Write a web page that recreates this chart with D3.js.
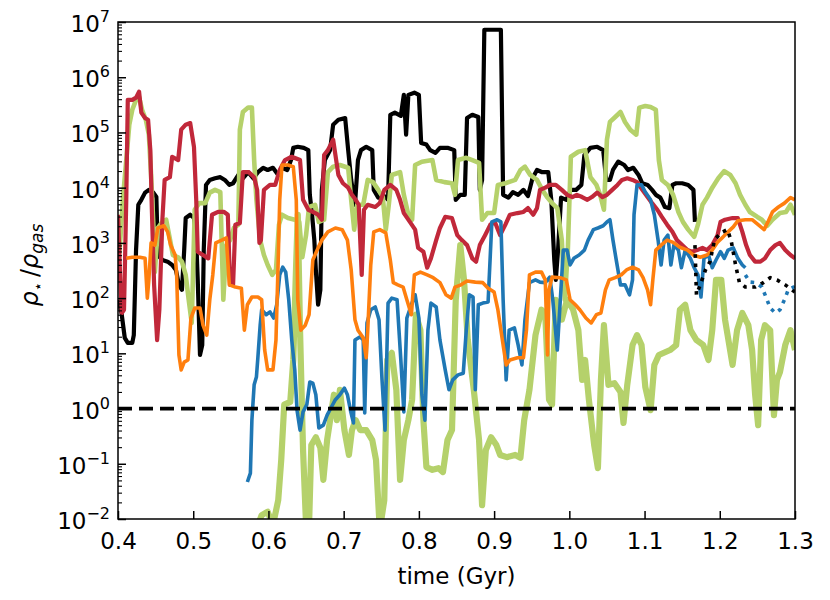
<!DOCTYPE html>
<html><head><meta charset="utf-8">
<script src="https://cdn.jsdelivr.net/npm/d3@7"></script>
<style>body{margin:0;background:#fff} text{font-family:"DejaVu Sans",sans-serif}</style>
</head><body><svg id="c" width="830" height="600"></svg>
<script>
// values: [time (Gyr), log10(rho_star / rho_gas)]
const xTickLabels = ["0.4","0.5","0.6","0.7","0.8","0.9","1.0","1.1","1.2","1.3"];
const yTickExponents = [-2,-1,0,1,2,3,4,5,6,7];
const threshold = 1;

const black = [[0.401,1.97],[0.405,1.70],[0.409,1.28],[0.413,1.19],[0.419,1.19],[0.421,1.33],[0.424,2.87],[0.427,3.69],[0.431,3.78],[0.436,3.91],[0.441,3.96],[0.447,3.91],[0.451,3.83],[0.453,2.78],[0.459,2.69],[0.466,2.66],[0.472,2.60],[0.477,2.51],[0.481,2.24],[0.485,2.15],[0.488,2.87],[0.490,3.45],[0.496,3.51],[0.501,3.45],[0.504,3.05],[0.506,2.33],[0.509,0.97],[0.512,1.15],[0.514,2.87],[0.517,4.05],[0.522,4.14],[0.529,4.17],[0.536,4.19],[0.542,4.14],[0.548,4.05],[0.553,4.08],[0.560,4.23],[0.566,4.17],[0.573,4.28],[0.580,4.17],[0.586,4.28],[0.593,4.36],[0.599,4.32],[0.606,4.36],[0.613,4.23],[0.618,4.36],[0.625,4.32],[0.630,4.50],[0.633,4.72],[0.639,4.74],[0.647,4.72],[0.653,4.68],[0.655,3.87],[0.658,3.51],[0.661,3.05],[0.663,2.51],[0.666,1.88],[0.669,2.15],[0.671,3.96],[0.675,4.50],[0.682,4.68],[0.686,5.14],[0.693,5.23],[0.702,5.26],[0.706,4.68],[0.710,4.14],[0.715,3.69],[0.719,4.50],[0.723,4.68],[0.730,4.74],[0.738,4.68],[0.740,3.96],[0.746,3.82],[0.752,3.87],[0.759,3.78],[0.762,5.32],[0.768,5.36],[0.776,5.30],[0.780,5.68],[0.783,4.96],[0.786,5.68],[0.794,5.72],[0.800,5.68],[0.803,4.81],[0.810,4.78],[0.815,4.68],[0.822,4.63],[0.828,4.72],[0.839,4.72],[0.847,4.68],[0.849,3.78],[0.855,3.87],[0.861,3.87],[0.864,5.26],[0.871,5.32],[0.879,5.28],[0.881,3.96],[0.884,4.14],[0.887,6.86],[0.899,6.86],[0.909,6.86],[0.912,3.87],[0.919,3.82],[0.925,3.92],[0.932,3.87],[0.939,3.96],[0.945,3.85],[0.951,4.17],[0.957,4.32],[0.964,4.28],[0.972,4.28],[0.976,3.78],[0.980,2.69],[0.982,2.33],[0.985,2.87],[0.989,3.82],[0.996,3.78],[1.002,3.96],[1.009,3.96],[1.016,4.05],[1.020,4.59],[1.028,4.72],[1.037,4.74],[1.045,4.68],[1.049,4.14],[1.054,4.14],[1.058,4.32],[1.065,4.47],[1.073,4.41],[1.078,4.32],[1.085,4.36],[1.092,4.23],[1.097,4.08],[1.104,4.05],[1.110,3.96],[1.115,3.87],[1.121,3.82],[1.127,3.65],[1.133,3.63],[1.137,4.05],[1.142,4.08],[1.150,4.08],[1.158,4.05],[1.165,3.96],[1.167,3.38]];

const blackDotted = [[1.167,2.96],[1.169,2.06],[1.174,2.24],[1.181,2.51],[1.187,2.66],[1.193,3.05],[1.201,3.18],[1.210,3.24],[1.215,3.05],[1.221,2.60],[1.226,2.29],[1.234,2.20],[1.247,2.20],[1.258,2.28],[1.267,2.37],[1.276,2.33],[1.287,2.24],[1.300,2.11]];

const red = [[0.400,3.51],[0.403,2.33],[0.405,1.73],[0.408,1.79],[0.411,3.78],[0.413,5.59],[0.419,5.59],[0.424,5.63],[0.428,5.74],[0.431,5.36],[0.436,5.26],[0.440,5.23],[0.443,4.68],[0.445,3.60],[0.448,2.24],[0.452,1.24],[0.455,1.79],[0.459,3.42],[0.462,4.14],[0.469,4.19],[0.472,4.56],[0.480,4.50],[0.484,5.05],[0.490,5.14],[0.496,5.17],[0.501,4.74],[0.504,3.78],[0.506,2.84],[0.513,2.78],[0.520,2.72],[0.525,3.51],[0.533,3.56],[0.541,3.56],[0.546,3.51],[0.549,2.24],[0.553,2.24],[0.556,3.33],[0.562,3.36],[0.566,4.28],[0.574,4.28],[0.581,4.19],[0.585,3.96],[0.588,3.00],[0.590,3.05],[0.594,3.96],[0.602,4.05],[0.609,4.05],[0.615,4.32],[0.622,4.50],[0.631,4.56],[0.642,4.50],[0.646,3.78],[0.653,3.60],[0.659,3.56],[0.666,3.51],[0.671,3.42],[0.674,4.59],[0.679,4.68],[0.686,4.87],[0.693,4.23],[0.699,4.08],[0.706,4.00],[0.711,3.87],[0.716,3.78],[0.720,3.69],[0.724,2.42],[0.727,3.60],[0.732,3.69],[0.742,3.65],[0.748,3.72],[0.754,3.96],[0.762,4.05],[0.770,3.96],[0.775,3.78],[0.780,3.54],[0.788,3.38],[0.795,3.24],[0.799,2.91],[0.806,2.84],[0.811,2.55],[0.816,2.72],[0.823,3.05],[0.828,3.27],[0.835,3.47],[0.844,3.45],[0.851,3.14],[0.857,3.05],[0.864,2.96],[0.871,2.72],[0.876,2.66],[0.881,2.96],[0.888,3.14],[0.895,3.33],[0.901,3.38],[0.908,3.14],[0.915,3.33],[0.921,3.51],[0.931,3.54],[0.939,3.56],[0.945,3.63],[0.952,3.51],[0.957,3.63],[0.961,3.96],[0.968,4.00],[0.974,4.05],[0.982,4.05],[0.990,3.96],[0.997,3.87],[1.004,3.83],[1.010,3.87],[1.017,3.83],[1.024,3.78],[1.030,3.83],[1.037,3.91],[1.044,3.83],[1.050,3.87],[1.057,3.96],[1.064,4.05],[1.070,4.14],[1.077,4.17],[1.084,4.14],[1.090,4.10],[1.097,3.96],[1.104,3.83],[1.110,3.72],[1.117,3.60],[1.123,3.47],[1.130,3.33],[1.137,3.20],[1.143,3.05],[1.150,2.96],[1.157,2.87],[1.163,2.84],[1.170,2.87],[1.177,2.91],[1.183,2.87],[1.190,2.96],[1.197,3.14],[1.201,3.38],[1.207,3.42],[1.217,3.45],[1.224,3.45],[1.230,3.20],[1.235,2.96],[1.240,2.78],[1.247,2.66],[1.254,2.66],[1.260,2.72],[1.267,2.87],[1.274,2.96],[1.280,3.00],[1.287,2.87],[1.294,2.78],[1.300,2.72]];

const orange = [[0.411,2.72],[0.419,2.74],[0.429,2.74],[0.436,2.72],[0.439,2.00],[0.441,2.33],[0.444,3.00],[0.449,2.96],[0.453,3.27],[0.461,3.31],[0.466,3.20],[0.470,2.96],[0.476,2.78],[0.478,2.42],[0.481,0.97],[0.484,0.70],[0.488,0.84],[0.493,0.88],[0.497,1.64],[0.502,1.82],[0.509,1.82],[0.513,1.51],[0.518,1.33],[0.522,1.97],[0.526,2.42],[0.530,3.00],[0.538,3.05],[0.544,3.09],[0.548,2.24],[0.556,2.20],[0.564,2.18],[0.568,1.42],[0.572,1.88],[0.578,2.02],[0.586,2.02],[0.591,1.97],[0.595,1.06],[0.599,0.70],[0.606,0.70],[0.610,1.24],[0.613,2.69],[0.615,3.78],[0.618,4.41],[0.626,4.41],[0.633,4.38],[0.637,3.78],[0.639,1.97],[0.643,1.42],[0.649,1.51],[0.654,1.70],[0.659,2.69],[0.666,2.91],[0.671,3.05],[0.679,3.20],[0.689,3.27],[0.698,3.24],[0.705,3.05],[0.710,2.51],[0.715,1.61],[0.719,1.42],[0.726,1.28],[0.730,0.92],[0.732,1.42],[0.736,2.60],[0.740,3.20],[0.748,3.24],[0.756,3.18],[0.762,2.69],[0.766,2.28],[0.772,2.24],[0.779,2.20],[0.784,1.97],[0.790,1.70],[0.794,2.42],[0.802,2.47],[0.811,2.42],[0.819,2.37],[0.828,2.28],[0.836,2.06],[0.843,2.00],[0.848,2.20],[0.856,2.24],[0.864,2.31],[0.875,2.29],[0.885,2.28],[0.892,2.18],[0.900,2.11],[0.905,1.79],[0.911,1.24],[0.916,0.79],[0.921,0.88],[0.931,0.92],[0.939,0.92],[0.943,1.42],[0.947,2.42],[0.955,2.47],[0.963,2.47],[0.968,2.33],[0.971,0.97],[0.973,2.15],[0.977,2.38],[0.988,2.37],[0.996,2.33],[1.001,1.97],[1.008,1.88],[1.014,1.79],[1.022,1.64],[1.029,1.55],[1.036,1.70],[1.042,1.73],[1.048,2.15],[1.053,2.33],[1.061,2.37],[1.069,2.42],[1.076,2.51],[1.084,2.56],[1.092,2.51],[1.098,2.37],[1.104,2.15],[1.108,1.88],[1.111,2.33],[1.115,2.87],[1.122,2.96],[1.130,3.05],[1.138,3.01],[1.147,2.92],[1.157,2.87],[1.165,2.78],[1.174,2.74],[1.183,2.78],[1.190,2.87],[1.197,3.01],[1.203,3.09],[1.211,3.20],[1.218,3.29],[1.224,3.40],[1.234,3.42],[1.243,3.42],[1.251,3.33],[1.259,3.24],[1.264,3.38],[1.270,3.56],[1.278,3.65],[1.286,3.72],[1.294,3.82],[1.300,3.78]];

const blue = [[0.572,-1.33],[0.576,-1.17],[0.578,-0.21],[0.581,0.43],[0.584,0.57],[0.586,0.93],[0.589,1.51],[0.591,1.79],[0.597,1.70],[0.602,1.75],[0.607,1.64],[0.611,1.88],[0.615,2.42],[0.619,2.56],[0.623,2.47],[0.627,1.97],[0.631,1.24],[0.635,0.70],[0.638,-0.03],[0.642,-0.39],[0.646,-0.06],[0.651,0.07],[0.655,0.48],[0.659,0.46],[0.663,0.25],[0.667,-0.35],[0.673,-0.30],[0.678,-0.12],[0.683,0.01],[0.689,0.16],[0.695,0.25],[0.701,0.37],[0.705,0.25],[0.709,-0.03],[0.713,-0.26],[0.715,1.24],[0.722,1.30],[0.726,1.24],[0.728,-0.08],[0.731,1.55],[0.736,1.79],[0.742,1.84],[0.747,1.61],[0.751,0.52],[0.755,-0.39],[0.759,1.91],[0.764,2.00],[0.771,1.97],[0.776,0.88],[0.780,-0.06],[0.784,1.64],[0.790,1.88],[0.795,2.06],[0.800,1.64],[0.804,0.25],[0.808,-0.21],[0.812,1.42],[0.816,1.91],[0.823,1.84],[0.828,1.24],[0.835,0.70],[0.840,0.34],[0.845,0.52],[0.852,0.61],[0.859,0.64],[0.863,1.42],[0.867,2.06],[0.872,2.02],[0.875,0.34],[0.879,1.88],[0.885,1.91],[0.892,1.93],[0.897,3.38],[0.904,3.42],[0.909,3.38],[0.912,1.97],[0.916,0.52],[0.920,1.42],[0.927,1.46],[0.932,1.15],[0.937,0.79],[0.941,1.61],[0.947,2.28],[0.955,2.33],[0.961,2.29],[0.968,2.28],[0.974,2.38],[0.978,1.97],[0.984,1.06],[0.988,1.97],[0.992,2.87],[0.997,2.87],[1.001,2.60],[1.006,2.72],[1.013,2.78],[1.020,2.87],[1.025,3.05],[1.032,3.24],[1.038,3.27],[1.045,3.31],[1.050,3.38],[1.054,3.42],[1.058,3.05],[1.062,2.72],[1.068,2.24],[1.074,2.24],[1.080,2.06],[1.084,2.33],[1.086,3.51],[1.090,4.05],[1.096,4.05],[1.101,3.92],[1.108,3.78],[1.113,3.51],[1.118,3.05],[1.122,2.60],[1.126,3.05],[1.131,3.14],[1.135,2.60],[1.139,2.96],[1.145,2.87],[1.149,2.55],[1.154,2.87],[1.161,2.72],[1.166,2.55],[1.171,2.42],[1.175,2.02],[1.179,2.72],[1.185,2.78],[1.190,2.55],[1.195,2.69],[1.201,2.84],[1.206,2.72],[1.211,2.87],[1.218,2.91],[1.224,2.72],[1.230,2.60],[1.234,2.55]];

const blueDotted = [[1.234,2.42],[1.240,2.29],[1.248,2.28],[1.256,2.20],[1.262,2.00],[1.267,1.82],[1.274,1.73],[1.280,1.79],[1.286,1.97],[1.291,2.15],[1.298,2.20],[1.300,2.15]];

const greenUpper = [[0.400,2.51],[0.403,3.05],[0.407,3.87],[0.411,4.50],[0.415,5.14],[0.419,5.41],[0.424,5.59],[0.428,5.64],[0.432,5.41],[0.437,5.23],[0.441,4.96],[0.444,4.23],[0.447,3.33],[0.449,2.47],[0.453,3.27],[0.459,3.38],[0.464,3.42],[0.468,3.14],[0.473,2.78],[0.480,2.74],[0.485,2.66],[0.490,2.42],[0.494,1.97],[0.498,1.55],[0.502,3.60],[0.508,3.72],[0.516,3.72],[0.522,3.91],[0.529,3.96],[0.536,3.92],[0.540,1.97],[0.544,2.96],[0.549,3.05],[0.554,3.27],[0.560,3.33],[0.562,5.05],[0.566,5.37],[0.573,5.45],[0.578,5.45],[0.581,4.50],[0.584,3.78],[0.589,3.05],[0.594,2.78],[0.599,2.60],[0.605,2.42],[0.610,2.51],[0.614,3.33],[0.618,3.51],[0.626,3.45],[0.635,3.42],[0.641,3.38],[0.645,2.74],[0.650,3.14],[0.654,3.65],[0.662,3.69],[0.667,3.38],[0.674,3.42],[0.679,4.28],[0.686,4.38],[0.695,4.41],[0.706,4.36],[0.710,3.78],[0.714,3.24],[0.718,3.69],[0.726,3.69],[0.732,4.14],[0.739,4.10],[0.746,3.96],[0.752,3.83],[0.756,3.24],[0.760,3.69],[0.764,4.23],[0.775,4.28],[0.780,3.87],[0.786,3.51],[0.791,3.42],[0.795,4.41],[0.804,4.47],[0.818,4.50],[0.823,4.14],[0.834,4.10],[0.844,4.08],[0.848,3.87],[0.852,4.50],[0.863,4.54],[0.871,4.50],[0.880,4.45],[0.884,3.42],[0.891,3.54],[0.900,3.54],[0.905,4.05],[0.915,4.08],[0.928,4.14],[0.935,4.32],[0.941,4.38],[0.948,4.23],[0.957,4.14],[0.964,3.96],[0.971,3.82],[0.977,3.72],[0.984,3.63],[0.990,3.05],[0.994,1.97],[0.998,2.87],[1.002,4.56],[1.012,4.65],[1.021,4.68],[1.028,4.19],[1.036,4.05],[1.041,3.87],[1.046,3.60],[1.050,4.87],[1.054,5.19],[1.061,5.28],[1.068,5.37],[1.074,5.19],[1.081,5.05],[1.089,4.96],[1.093,5.45],[1.101,5.48],[1.108,5.46],[1.115,5.41],[1.119,4.50],[1.123,4.14],[1.131,4.05],[1.138,3.87],[1.145,3.56],[1.151,3.38],[1.158,3.24],[1.166,3.11],[1.171,3.33],[1.177,3.69],[1.183,3.82],[1.190,4.00],[1.198,4.17],[1.206,4.30],[1.214,4.23],[1.221,4.08],[1.227,3.87],[1.234,3.69],[1.240,3.56],[1.250,3.47],[1.256,3.42],[1.263,3.31],[1.270,3.42],[1.280,3.54],[1.288,3.56],[1.294,3.69],[1.300,3.51]];

const greenLower = [[0.586,-2.11],[0.591,-1.93],[0.599,-1.87],[0.606,-2.11],[0.613,-1.66],[0.617,-0.93],[0.621,0.07],[0.629,0.12],[0.633,0.88],[0.637,2.69],[0.639,3.51],[0.642,1.42],[0.646,-0.75],[0.650,-2.11],[0.654,-2.11],[0.657,-0.66],[0.663,-0.52],[0.669,-0.71],[0.673,-1.29],[0.678,-0.57],[0.682,-0.21],[0.687,0.25],[0.691,-0.21],[0.695,0.34],[0.701,-0.39],[0.707,-0.84],[0.711,-0.39],[0.716,-0.21],[0.722,-0.39],[0.730,-0.39],[0.738,-0.57],[0.743,-0.93],[0.748,-2.20],[0.754,-1.66],[0.758,0.88],[0.764,1.01],[0.770,0.34],[0.775,-1.29],[0.780,-0.57],[0.786,-0.21],[0.791,0.16],[0.796,1.70],[0.802,1.42],[0.806,-0.21],[0.810,-1.06],[0.818,-1.11],[0.826,-1.08],[0.832,-1.15],[0.838,-0.57],[0.844,-0.39],[0.849,1.97],[0.855,2.96],[0.860,2.33],[0.865,1.24],[0.873,0.34],[0.880,-0.57],[0.884,-1.75],[0.889,-0.75],[0.896,-0.52],[0.903,-0.66],[0.908,-0.84],[0.917,-0.88],[0.928,-0.84],[0.935,-0.89],[0.940,-0.21],[0.947,0.34],[0.955,1.33],[0.963,1.79],[0.968,1.70],[0.973,0.16],[0.977,0.07],[0.982,1.97],[0.990,1.61],[0.997,1.97],[1.005,1.79],[1.012,1.42],[1.017,0.52],[1.021,0.88],[1.026,0.16],[1.033,-0.66],[1.038,-1.08],[1.042,0.52],[1.046,1.51],[1.052,0.43],[1.060,0.46],[1.068,0.30],[1.072,-0.26],[1.077,0.43],[1.084,1.15],[1.090,1.33],[1.096,1.15],[1.101,0.39],[1.108,-0.03],[1.113,0.79],[1.119,0.97],[1.134,1.06],[1.142,1.15],[1.147,1.79],[1.154,1.88],[1.161,1.42],[1.169,1.24],[1.178,1.15],[1.185,0.88],[1.190,1.42],[1.195,2.33],[1.202,2.33],[1.207,1.61],[1.217,0.79],[1.223,1.42],[1.230,1.73],[1.238,1.51],[1.243,1.06],[1.247,0.25],[1.251,-0.30],[1.255,1.24],[1.260,1.51],[1.267,1.42],[1.272,-0.12],[1.276,0.52],[1.280,0.66],[1.287,1.15],[1.294,1.42],[1.300,1.06]];

const svg = d3.select("#c");
const L = 118, R = 795, T = 22, B = 519;
const x = d3.scaleLinear().domain([0.4, 1.3]).range([L, R]);
const y = d3.scaleLog().domain([1e-2, 1e7]).range([B, T]);

svg.append("defs").append("clipPath").attr("id","clip")
  .append("rect").attr("x",L).attr("y",T).attr("width",R-L).attr("height",B-T);

const line = d3.line().x(d => x(d[0])).y(d => y(Math.pow(10, d[1])));
const g = svg.append("g").attr("clip-path","url(#clip)");

const series = [
  {d: black, c: "#000000", w: 4.2},
  {d: greenUpper, c: "#b5d16b", w: 4.6},
  {d: red, c: "#c1283a", w: 4.2},
  {d: greenLower, c: "#b5d16b", w: 6.2},
  {d: blue, c: "#1f77b4", w: 3.6},
  {d: orange, c: "#ff7f0e", w: 3.6},
  {d: blackDotted, c: "#000000", w: 3.6, dash: "3.6,5.6"},
  {d: blueDotted, c: "#1f77b4", w: 3.6, dash: "3.6,5.6"}
];
series.forEach(s => {
  g.append("path").attr("d", line(s.d)).attr("fill","none")
    .attr("stroke", s.c).attr("stroke-width", s.w)
    .attr("stroke-linejoin","round")
    .attr("stroke-dasharray", s.dash || null);
});

// threshold line at 1
g.append("line").attr("x1", x(0.4)).attr("x2", x(1.3))
  .attr("y1", y(threshold)).attr("y2", y(threshold))
  .attr("stroke","#000").attr("stroke-width",3.8).attr("stroke-dasharray","14,7");

// x axis
const xVals = xTickLabels.map(Number);
const xAxis = d3.axisBottom(x).tickValues(xVals).tickFormat((d,i) => xTickLabels[i])
  .tickSizeInner(-8).tickSizeOuter(0).tickPadding(14);
const xg = svg.append("g").attr("transform", `translate(0,${B})`).call(xAxis);
xg.select(".domain").remove();
xg.selectAll("line").attr("stroke-width",1.5);
xg.selectAll("text").attr("font-size",23).attr("font-family","DejaVu Sans").attr("fill","#000");

// y axis major
const majors = yTickExponents.map(e => Math.pow(10, e));
const yAxis = d3.axisLeft(y).tickValues(majors).tickFormat("").tickSizeInner(-8).tickSizeOuter(0);
const yg = svg.append("g").attr("transform", `translate(${L},0)`).call(yAxis);
yg.select(".domain").remove();
yg.selectAll("line").attr("stroke-width",1.5);
// minor
const minors = [];
yTickExponents.slice(0,-1).forEach(e => { for (let k = 2; k <= 9; k++) minors.push(k * Math.pow(10, e)); });
const ygm = svg.append("g").attr("transform", `translate(${L},0)`)
  .call(d3.axisLeft(y).tickValues(minors).tickFormat("").tickSizeInner(-4).tickSizeOuter(0));
ygm.select(".domain").remove();
ygm.selectAll("line").attr("stroke-width",1.1);

// y labels with superscripts
yTickExponents.forEach(e => {
  const t = svg.append("text").attr("x", L - 8).attr("y", y(Math.pow(10, e)) + 10)
    .attr("text-anchor","end").attr("font-size",23).attr("fill","#000");
  t.append("tspan").text("10");
  t.append("tspan").attr("font-size",16).attr("dy",-10).text(String(e).replace("-", "\u2212"));
});

// frame
svg.append("rect").attr("x",L).attr("y",T).attr("width",R-L).attr("height",B-T)
  .attr("fill","none").attr("stroke","#000").attr("stroke-width",1.5);

// axis labels
svg.append("text").attr("x",(L+R)/2).attr("y",584).attr("text-anchor","middle")
  .attr("font-size",23).attr("fill","#000").text("time (Gyr)");
const yl = svg.append("text").attr("transform","translate(38,265) rotate(-90)")
  .attr("text-anchor","middle").attr("font-size",24).attr("fill","#000");
yl.append("tspan").attr("font-style","italic").text("\u03c1");
yl.append("tspan").attr("font-size",15).attr("dy",5).text("\u22c6");
yl.append("tspan").attr("dy",-5).text("\u2009/");
yl.append("tspan").attr("font-style","italic").text("\u03c1");
yl.append("tspan").attr("font-style","italic").attr("font-size",17).attr("dy",5).text("gas");
</script></body></html>
